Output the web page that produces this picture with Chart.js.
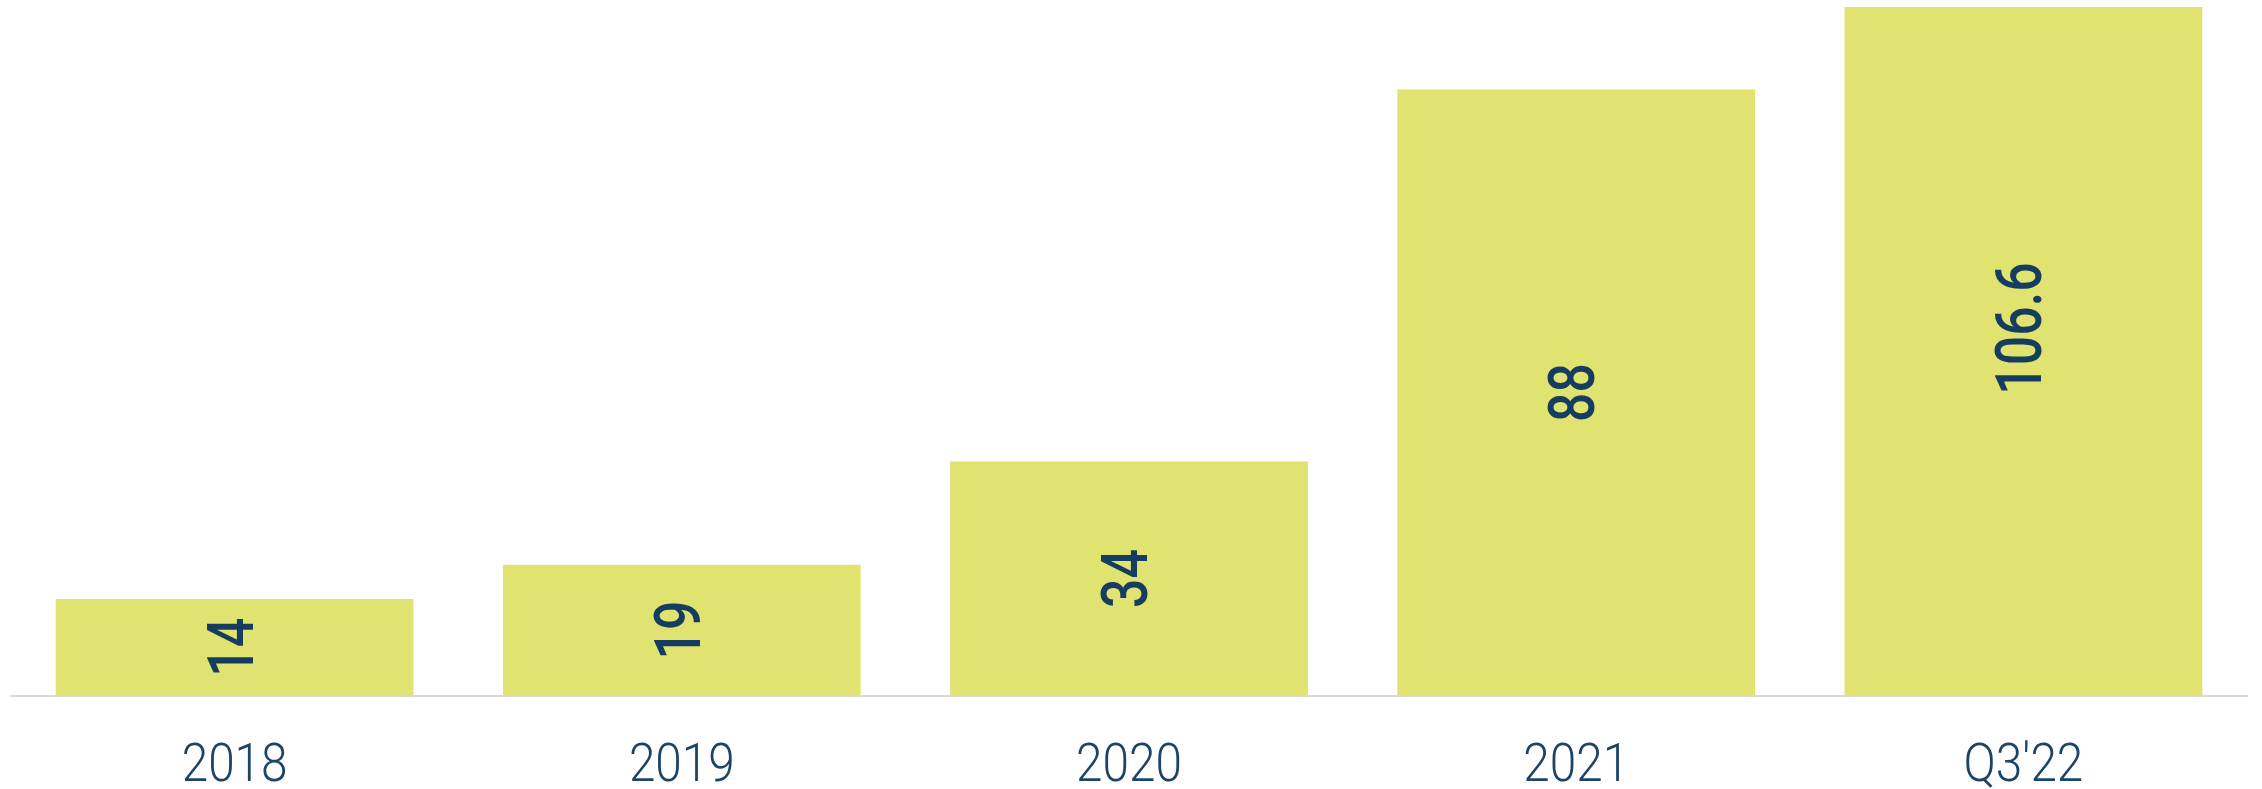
<!DOCTYPE html>
<html>
<head>
<meta charset="utf-8">
<script src="https://cdn.jsdelivr.net/npm/chart.js@4.4.1/dist/chart.umd.min.js"></script>
<style>
  html, body { margin: 0; padding: 0; background: #ffffff; }
  #wrap { width: 2262px; height: 789px; position: relative; }
</style>
</head>
<body>
<div id="wrap"><canvas id="c" width="2262" height="789"></canvas></div>
<script>
const categories = ['2018', '2019', '2020', '2021', "Q3'22"];
const values = [14, 19, 34, 88, 106.6];
const valueLabels = ['14', '19', '34', '88', '106.6'];
const yMin = 0;
const yMax = 100;

const BAR = '#e0e370';
const NAVY = '#153d5f';

// Value labels, rotated, centred on each (unclipped) bar, narrow face
const valueLabelPlugin = {
  id: 'valueLabels',
  afterDatasetsDraw(chart) {
    const ctx = chart.ctx;
    const meta = chart.getDatasetMeta(0);
    const yScale = chart.scales.y;
    ctx.save();
    ctx.fillStyle = NAVY;
    ctx.font = '500 64px Roboto, sans-serif';
    ctx.textAlign = 'center';
    ctx.textBaseline = 'middle';
    meta.data.forEach((bar, i) => {
      const top = yScale.getPixelForValue(values[i]);
      const base = yScale.getPixelForValue(0);
      const cy = (top + base) / 2;
      ctx.save();
      ctx.translate(bar.x, cy);
      ctx.rotate(-Math.PI / 2);
      ctx.scale(0.81, 1);
      ctx.fillText(valueLabels[i], 0, 2);
      ctx.restore();
    });
    ctx.restore();
  }
};

// Category labels under the axis, light narrow face, positioned by the x scale
const categoryLabelPlugin = {
  id: 'categoryLabels',
  afterDraw(chart) {
    const ctx = chart.ctx;
    const xScale = chart.scales.x;
    ctx.save();
    ctx.fillStyle = '#1b4468';
    ctx.font = '300 53px Roboto, Lato, "Open Sans", sans-serif';
    ctx.textAlign = 'center';
    ctx.textBaseline = 'alphabetic';
    categories.forEach((label, i) => {
      const x = xScale.getPixelForValue(i);
      ctx.save();
      ctx.translate(x, 781);
      ctx.scale(0.9, 1);
      ctx.fillText(label, 0, 0);
      ctx.restore();
    });
    ctx.restore();
  }
};

new Chart(document.getElementById('c'), {
  type: 'bar',
  data: {
    labels: categories,
    datasets: [{
      data: values,
      backgroundColor: BAR,
      borderWidth: 0,
      categoryPercentage: 1.0,
      barPercentage: 0.8,
      clip: 0
    }]
  },
  options: {
    responsive: false,
    animation: false,
    devicePixelRatio: 1,
    layout: { padding: { left: 11, right: 15, top: 7, bottom: 93.5 } },
    plugins: { legend: { display: false }, tooltip: { enabled: false } },
    scales: {
      x: {
        grid: { display: false, drawTicks: false },
        border: { display: true, color: '#d9d9d9', width: 2 },
        ticks: { display: false }
      },
      y: {
        display: false,
        min: yMin,
        max: yMax
      }
    }
  },
  plugins: [valueLabelPlugin, categoryLabelPlugin]
});
</script>
</body>
</html>
